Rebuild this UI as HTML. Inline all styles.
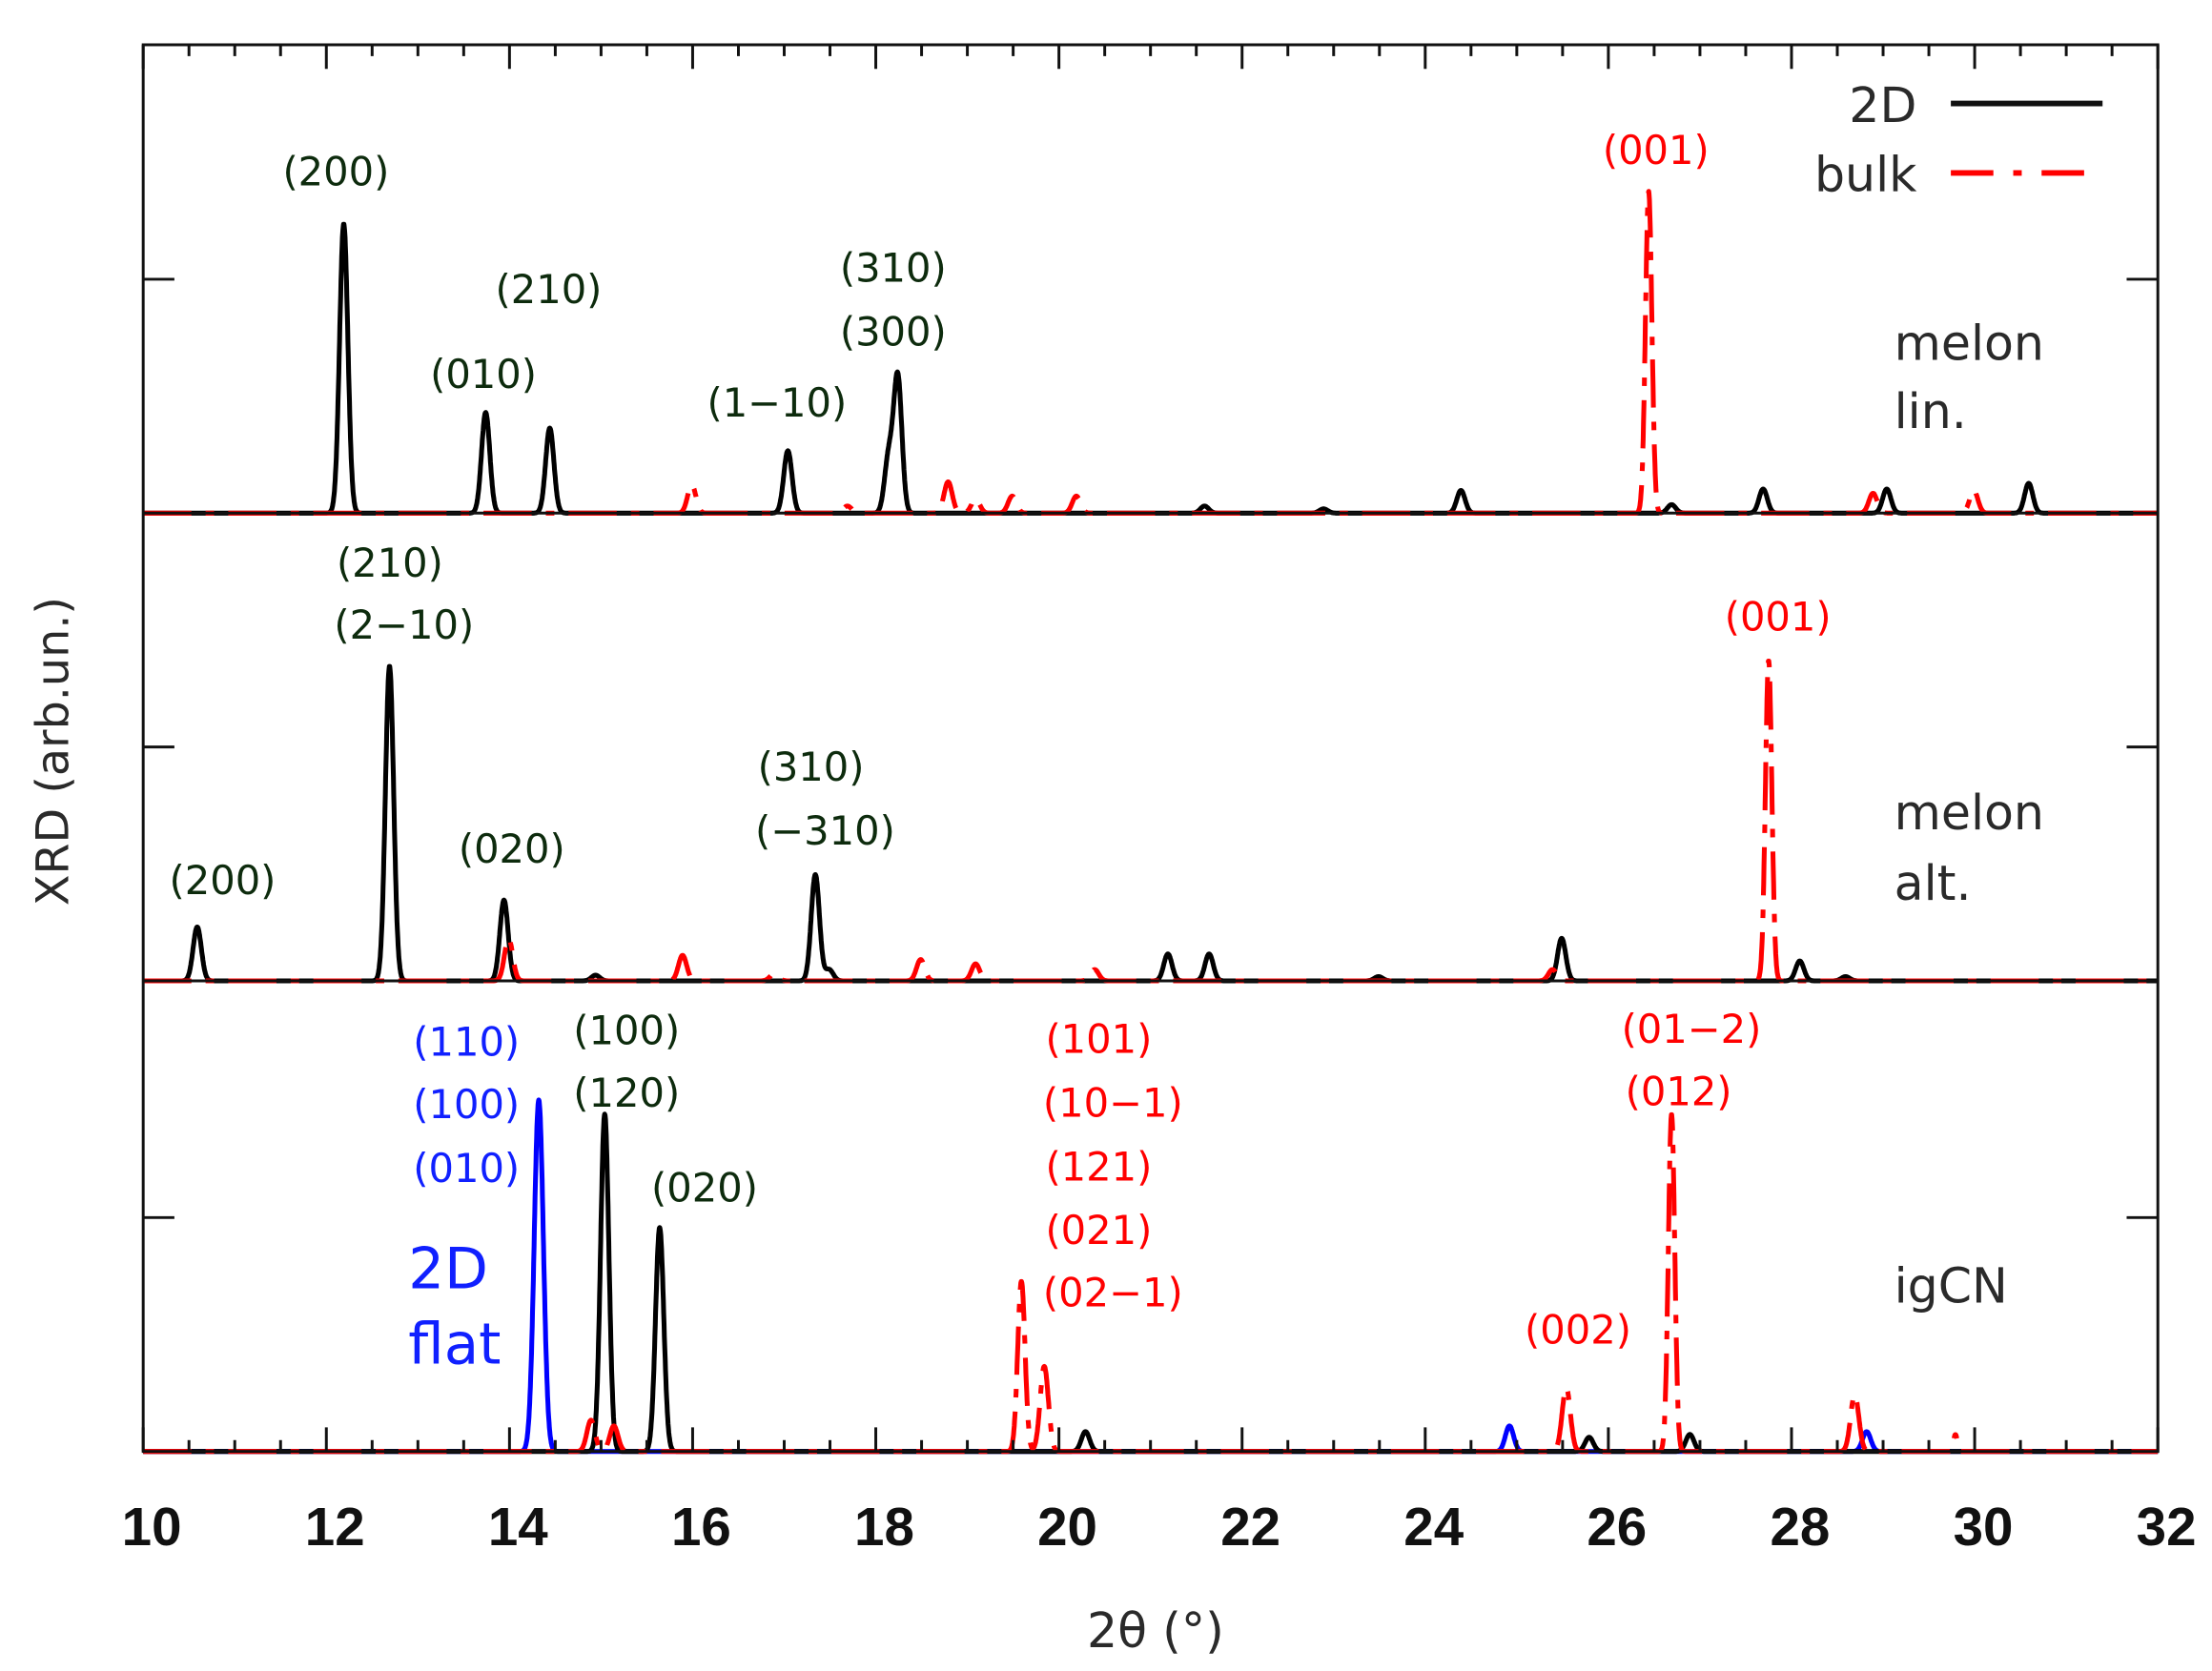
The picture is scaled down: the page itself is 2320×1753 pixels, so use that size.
<!DOCTYPE html>
<html><head><meta charset="utf-8"><style>
html,body{margin:0;padding:0;background:#fff;}
svg{display:block;}
text{font-family:"DejaVu Sans","Liberation Sans",sans-serif;}
.a{font-size:28px;fill:#0d2b0d;text-anchor:middle;dominant-baseline:central;}
.r{fill:#f00;}
.b{fill:#1020ff;}
.t{font-family:"Liberation Sans",sans-serif;font-weight:bold;font-size:38px;fill:#111;text-anchor:middle;}
.p{font-size:34px;fill:#2a2a2a;}
</style></head><body>
<svg id="s" width="2320" height="1753" viewBox="0 0 1560.2 1178.9" preserveAspectRatio="none" xmlns="http://www.w3.org/2000/svg">
<g id="data"></g>
<g id="ax" stroke="#111" stroke-width="2" fill="none"></g>
<rect x="101" y="31.6" width="1421" height="992.4" fill="none" stroke="#111" stroke-width="2"/>
<line x1="101" y1="362" x2="1522" y2="362" stroke="#111" stroke-width="2"/>
<line x1="101" y1="692" x2="1522" y2="692" stroke="#111" stroke-width="2"/>
<!-- legend -->
<text class="p" x="1352" y="86" text-anchor="end">2D</text>
<line x1="1376" y1="73" x2="1483" y2="73" stroke="#111" stroke-width="4"/>
<text class="p" x="1352" y="135" text-anchor="end">bulk</text>
<line x1="1376" y1="122" x2="1483" y2="122" stroke="#f00" stroke-width="4" stroke-dasharray="30 14 6 14"/>
<!-- panel labels -->
<text class="p" x="1336" y="254">melon</text>
<text class="p" x="1336" y="302">lin.</text>
<text class="p" x="1336" y="585">melon</text>
<text class="p" x="1336" y="635">alt.</text>
<text class="p" x="1336" y="919">igCN</text>
<!-- annotations top -->
<text class="a" x="237" y="121">(200)</text>
<text class="a" x="341" y="264">(010)</text>
<text class="a" x="387" y="204">(210)</text>
<text class="a" x="548" y="284">(1−10)</text>
<text class="a" x="630" y="189">(310)</text>
<text class="a" x="630" y="234">(300)</text>
<text class="a r" x="1168" y="106">(001)</text>
<!-- middle -->
<text class="a" x="275" y="397">(210)</text>
<text class="a" x="285" y="441">(2−10)</text>
<text class="a" x="157" y="621">(200)</text>
<text class="a" x="361" y="599">(020)</text>
<text class="a" x="572" y="541">(310)</text>
<text class="a" x="582" y="586">(−310)</text>
<text class="a r" x="1254" y="435">(001)</text>
<!-- bottom -->
<text class="a b" x="329" y="735">(110)</text>
<text class="a b" x="329" y="779">(100)</text>
<text class="a b" x="329" y="824">(010)</text>
<text class="b" x="288" y="909" style="font-size:40px">2D</text>
<text class="b" x="288" y="962" style="font-size:40px">flat</text>
<text class="a" x="442" y="727">(100)</text>
<text class="a" x="442" y="771">(120)</text>
<text class="a" x="497" y="838">(020)</text>
<text class="a r" x="775" y="733">(101)</text>
<text class="a r" x="785" y="778">(10−1)</text>
<text class="a r" x="775" y="823">(121)</text>
<text class="a r" x="775" y="868">(021)</text>
<text class="a r" x="785" y="912">(02−1)</text>
<text class="a r" x="1113" y="938">(002)</text>
<text class="a r" x="1193" y="726">(01−2)</text>
<text class="a r" x="1184" y="770">(012)</text>
<!-- tick labels -->
<g id="tl"></g>
<text class="p" x="815" y="1162" text-anchor="middle">2θ (°)</text>
<text class="p" transform="translate(48,530) rotate(-90)" text-anchor="middle" style="font-size:32px">XRD (arb.un.)</text>
</svg>
<script>
var NS="http://www.w3.org/2000/svg";
function X(d){return 101+(d-10)*64.59;}
function el(p,n,a){var e=document.createElementNS(NS,n);for(var k in a)e.setAttribute(k,a[k]);p.appendChild(e);return e;}
var ax=document.getElementById('ax'),tl=document.getElementById('tl'),data=document.getElementById('data');
for(var d=10;d<=32.001;d+=0.5){
  var x=X(d),maj=Math.abs(d-Math.round(d/2)*2)<0.01,L=maj?17:8;
  el(ax,'line',{x1:x,y1:1024,x2:x,y2:1024-L});
  el(ax,'line',{x1:x,y1:31.6,x2:x,y2:31.6+L});
  if(maj){var t=el(tl,'text',{'class':'t',x:x+6,y:1090});t.textContent=Math.round(d);}
}
[197,527,859].forEach(function(y){el(ax,'line',{x1:101,y1:y,x2:123,y2:y});el(ax,'line',{x1:1500,y1:y,x2:1522,y2:y});});
var base=[362,692,1024];
function path(bl,peaks,sig,off){
  var s="";
  for(var d=10;d<=32.0001;d+=0.004){
    var h=0;peaks.forEach(function(p){var w=p[2]||sig;h+=p[1]*Math.exp(-Math.pow(d-p[0]-off,2)/(2*w*w));});
    s+=(s?"L":"M")+X(d).toFixed(1)+","+(bl-h).toFixed(1);
  }return s;
}
var sets=[
 {bl:0,c:"#000",pk:[[12.1,204],[13.65,71],[14.35,60],[16.95,44],[18.05,39],[18.15,96],[21.5,5],[22.8,3],[24.3,16],[26.6,6],[27.6,17],[28.95,17],[30.5,21]]},
 {bl:0,c:"#f00",dash:1,pk:[[26.35,227,0.035],[15.9,20],[18.7,22],[19.0,10],[19.4,12],[20.1,12],[28.8,14],[29.9,16],[17.6,5]]},
 {bl:1,c:"#000",pk:[[10.5,38],[12.6,222],[13.85,57],[14.85,4],[17.25,75],[17.4,8],[21.1,19],[21.55,19],[23.4,3],[25.4,30],[28.0,14],[28.5,3]]},
 {bl:1,c:"#f00",dash:1,pk:[[27.66,226,0.035],[13.9,30],[15.8,18],[18.4,15],[19.0,12],[20.3,8],[25.3,8],[16.8,5]]},
 {bl:2,c:"#00f",off:0.02,pk:[[14.3,248,0.05],[24.9,18],[28.8,14]]},
 {bl:2,c:"#000",pk:[[14.95,238],[15.55,158],[20.2,14],[25.7,10],[26.8,12]]},
 {bl:2,c:"#f00",dash:1,pk:[[19.5,120,0.04],[19.75,60],[25.45,45],[26.6,238,0.035],[28.6,40],[29.7,12,0.02],[14.8,22],[15.05,18]]}
];
sets.forEach(function(st){
  var off=st.off!==undefined?st.off:0.09;
  var a={d:path(base[st.bl],st.pk,0.045,off),fill:"none",stroke:st.c,"stroke-width":3.4,"stroke-linejoin":"round"};
  if(st.dash)a["stroke-dasharray"]="34 10 6 10";
  el(data,'path',a);
});
</script>
</body></html>
